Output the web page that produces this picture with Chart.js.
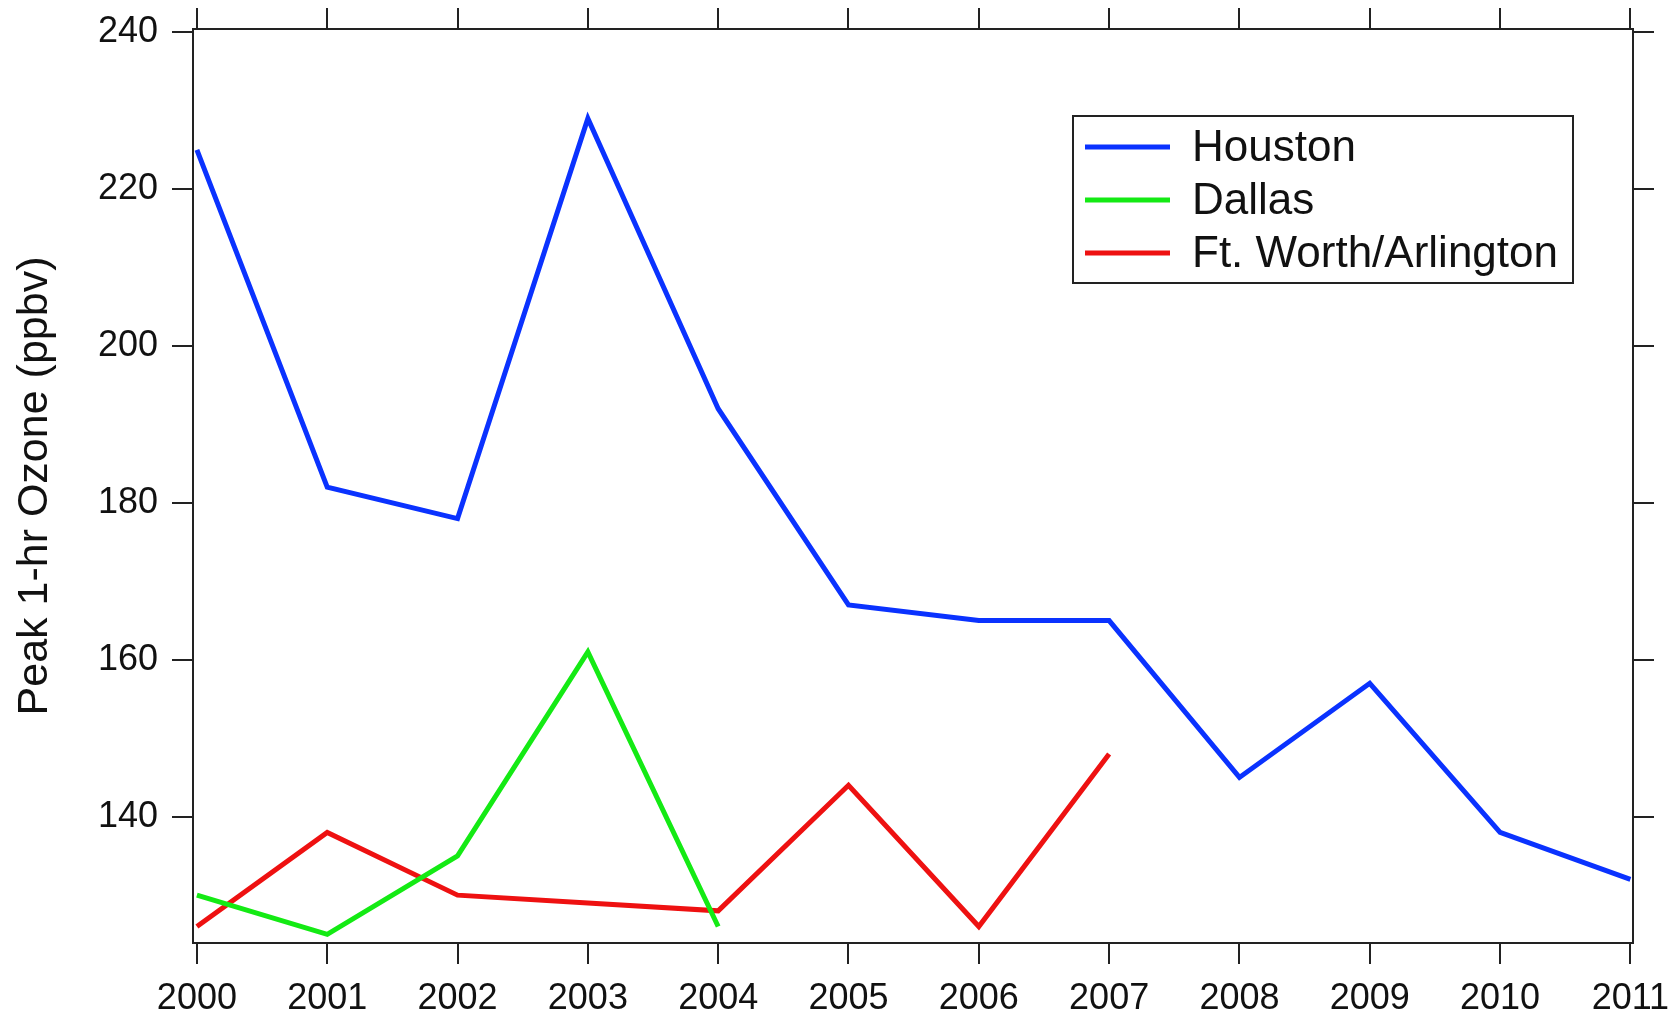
<!DOCTYPE html>
<html>
<head>
<meta charset="utf-8">
<script src="https://cdn.jsdelivr.net/npm/chart.js@4"></script>
<style>
  body { margin: 0; background: #fff; }
  #wrap { width: 1676px; height: 1015px; }
</style>
</head>
<body>
<div id="wrap"><canvas id="ozoneChart" width="1676" height="1015"></canvas></div>
<script>
// data
const years = [2000, 2001, 2002, 2003, 2004, 2005, 2006, 2007, 2008, 2009, 2010, 2011]
const houston = [225, 182, 178, 229, 192, 167, 165, 165, 145, 157, 138, 132]
const dallas = [130, 125, 135, 161, 126]
const ftWorth = [126, 138, 130, 129, 128, 144, 126, 148]
const yTicks = [140, 160, 180, 200, 220, 240]

const seriesNames = ['Houston', 'Dallas', 'Ft. Worth/Arlington']
const blueColor = '#0a32ff'
const greenColor = '#14ea14'
const redColor = '#ee1111'

const axisColor = '#222'
const fontName = '"Liberation Sans", Arial, sans-serif'

function toPoints(vals) {
	var pts = []
	for (var i = 0; i < vals.length; i++) {
		pts.push({ x: years[i], y: vals[i] })
	}
	return pts
}

function setTicks(list) {
	return function (scale) {
		scale.ticks = list.map(function (v) { return { value: v } })
	}
}

// fixed axis box sizes, no extra room for overhanging labels
function fixSize(size) {
	return function (s) {
		if (s.isHorizontal()) s.height = size
		else s.width = size
		s.paddingLeft = 0
		s.paddingRight = 0
		s.paddingTop = 0
		s.paddingBottom = 0
	}
}

// legend box drawn inside the plot, upper right
const boxLegend = {
	id: 'boxLegend',
	afterDraw(chart) {
		var ctx = chart.ctx
		var area = chart.chartArea
		var left = area.right - 560
		var top = area.top + 87
		var w = 500, h = 167
		ctx.save()
		ctx.fillStyle = '#fff'
		ctx.fillRect(left, top, w, h)
		ctx.strokeStyle = axisColor
		ctx.lineWidth = 2
		ctx.strokeRect(left, top, w, h)
		ctx.font = '44px ' + fontName
		ctx.textBaseline = 'middle'
		chart.data.datasets.forEach(function (ds, i) {
			var rowY = top + 31 + i * 53
			ctx.strokeStyle = ds.borderColor
			ctx.lineWidth = 5
			ctx.beginPath()
			ctx.moveTo(left + 12, rowY)
			ctx.lineTo(left + 97, rowY)
			ctx.stroke()
			ctx.fillStyle = '#111'
			ctx.fillText(ds.label, left + 119, rowY + 2)
		})
		ctx.restore()
	}
}

const gridOpts = {
	drawOnChartArea: false,
	drawTicks: true,
	tickLength: 21,
	tickColor: axisColor,
	tickWidth: 2,
	color: axisColor,
	lineWidth: 2
}
const borderOpts = { display: true, color: axisColor, width: 2 }

var ctx = document.getElementById('ozoneChart')
var lineChart = new Chart(ctx, {
	type: 'line',
	data: {
		datasets: [{
			label: seriesNames[0],
			data: toPoints(houston),
			borderColor: blueColor,
			borderWidth: 5,
			pointRadius: 0,
			fill: false,
			tension: 0
		}, {
			label: seriesNames[1],
			data: toPoints(dallas),
			borderColor: greenColor,
			borderWidth: 5,
			pointRadius: 0,
			fill: false,
			tension: 0
		}, {
			label: seriesNames[2],
			data: toPoints(ftWorth),
			borderColor: redColor,
			borderWidth: 5,
			pointRadius: 0,
			fill: false,
			tension: 0
		}]
	},
	options: {
		responsive: false,
		animation: false,
		layout: { padding: 0 },
		plugins: {
			legend: { display: false },
			tooltip: { enabled: false }
		},
		scales: {
			x: {
				type: 'linear',
				position: 'bottom',
				min: 1999.97,
				max: 2011.02,
				afterBuildTicks: setTicks(years),
				afterFit: fixSize(72),
				grid: gridOpts,
				border: borderOpts,
				ticks: {
					font: { family: fontName, size: 36 },
					color: '#111',
					padding: 13,
					maxRotation: 0,
					autoSkip: false,
					callback: function (v) { return String(v) }
				}
			},
			x2: {
				type: 'linear',
				position: 'top',
				min: 1999.97,
				max: 2011.02,
				afterBuildTicks: setTicks(years),
				afterFit: fixSize(29),
				grid: gridOpts,
				border: borderOpts,
				ticks: { display: false }
			},
			y: {
				type: 'linear',
				position: 'left',
				min: 123.9,
				max: 240.4,
				afterBuildTicks: setTicks(yTicks),
				afterFit: fixSize(193),
				grid: gridOpts,
				border: borderOpts,
				ticks: {
					font: { family: fontName, size: 36 },
					color: '#111',
					padding: 14
				},
				title: {
					display: true,
					text: 'Peak 1-hr Ozone (ppbv)',
					font: { family: fontName, size: 43 },
					color: '#111',
					padding: { top: 9, bottom: 0 }
				}
			},
			y2: {
				type: 'linear',
				position: 'right',
				min: 123.9,
				max: 240.4,
				afterBuildTicks: setTicks(yTicks),
				afterFit: fixSize(43),
				grid: gridOpts,
				border: borderOpts,
				ticks: { display: false }
			}
		}
	},
	plugins: [boxLegend]
})
</script>
</body>
</html>
